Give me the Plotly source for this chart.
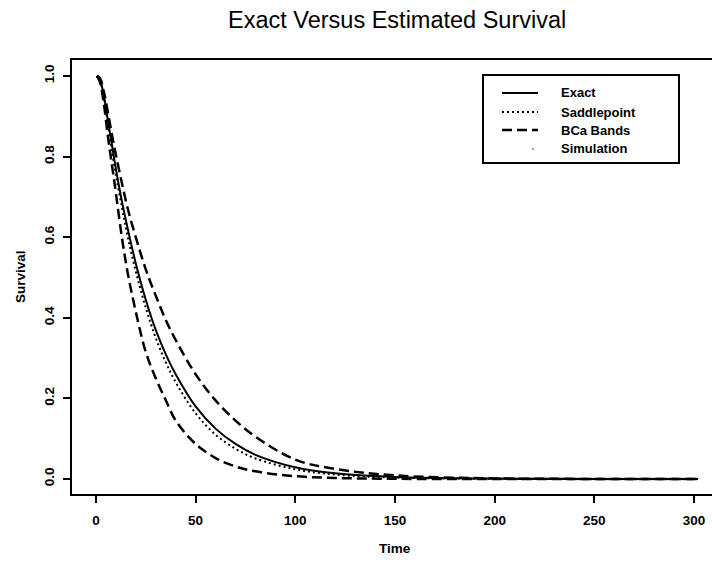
import plotly.graph_objects as go

# ---- data ----
time = [0.5, 2, 4, 6, 8, 10, 13, 16, 20, 25, 30, 35, 40, 50, 60, 70, 80, 100, 120, 150, 200, 250, 302]
exact = [1.0, 0.99, 0.95, 0.89, 0.83, 0.77, 0.69, 0.62, 0.535, 0.445, 0.37, 0.31, 0.26, 0.18, 0.125,
         0.087, 0.06, 0.029, 0.014, 0.005, 0.001, 0.0002, 0.0]
saddle = [1.0, 0.99, 0.945, 0.88, 0.815, 0.755, 0.675, 0.60, 0.515, 0.425, 0.35, 0.29, 0.24, 0.163, 0.11,
          0.075, 0.051, 0.024, 0.011, 0.0035, 0.0006, 0.0001, 0.0]
bca_lower = [1.0, 0.985, 0.93, 0.85, 0.78, 0.71, 0.60, 0.51, 0.415, 0.315, 0.25, 0.196, 0.145, 0.087, 0.052,
             0.031, 0.019, 0.007, 0.0025, 0.0005, 0.0, 0.0, 0.0]
bca_upper = [1.0, 0.995, 0.96, 0.91, 0.855, 0.805, 0.735, 0.67, 0.60, 0.52, 0.455, 0.395, 0.345, 0.26, 0.195,
             0.145, 0.105, 0.048, 0.025, 0.009, 0.0015, 0.0002, 0.0]

x_ticks = [0, 50, 100, 150, 200, 250, 300]
y_ticks = [0.0, 0.2, 0.4, 0.6, 0.8, 1.0]
legend_labels = ["Exact", "Saddlepoint", "BCa Bands", "Simulation"]

# ---- layout geometry (pixels) ----
W, H = 712, 562
L, R, T, B = 72, 0, 60, 68
PW, PH = W - L - R, H - T - B

def px(x):
    return (x - L) / PW

def py(y):
    return (H - B - y) / PH

FONT = "Liberation Sans"
fig = go.Figure()

common = dict(mode="lines", line_shape="spline", showlegend=False, hoverinfo="skip")
fig.add_trace(go.Scatter(x=time, y=exact, line=dict(color="black", width=2), **common))
fig.add_trace(go.Scatter(x=time, y=saddle, line=dict(color="black", width=2, dash="2px,3px"), **common))
fig.add_trace(go.Scatter(x=time, y=bca_lower, line=dict(color="black", width=2.5, dash="10px,5px"), **common))
fig.add_trace(go.Scatter(x=time, y=bca_upper, line=dict(color="black", width=2.5, dash="10px,5px"), **common))

# ---- legend drawn by hand (R style box) ----
shapes = [dict(type="rect", xref="paper", yref="paper", x0=px(483), x1=px(679), y0=py(163), y1=py(75),
               line=dict(color="black", width=2), fillcolor="white", layer="above")]
rows = [93, 112, 130, 149]
dashes = ["solid", "2px,3px", "10px,5px", None]
annotations = []
for lab, yy, d in zip(legend_labels, rows, dashes):
    if d is not None:
        shapes.append(dict(type="line", xref="paper", yref="paper", x0=px(502), x1=px(538), y0=py(yy), y1=py(yy),
                           line=dict(color="black", width=2 if d != "10px,5px" else 2.5, dash=d), layer="above"))
    else:
        shapes.append(dict(type="circle", xref="paper", yref="paper", x0=px(532.3), x1=px(533.7),
                           y0=py(yy + 0.7), y1=py(yy - 0.7), line=dict(width=0), fillcolor="black", layer="above"))
    annotations.append(dict(text=lab, xref="paper", yref="paper", x=px(559), y=py(yy), xanchor="left",
                            yanchor="middle", showarrow=False,
                            font=dict(family=FONT, size=13, color="black", weight="bold")))

annotations.append(dict(text="Exact Versus Estimated Survival", xref="paper", yref="paper",
                        x=px(397), y=py(20), xanchor="center", yanchor="middle", showarrow=False,
                        font=dict(family=FONT, size=23.5, color="black")))
annotations.append(dict(text="Time", xref="paper", yref="paper", x=px(395), y=py(548),
                        xanchor="center", yanchor="middle", showarrow=False,
                        font=dict(family=FONT, size=13.5, color="black", weight="bold")))
annotations.append(dict(text="Survival", xref="paper", yref="paper", x=px(20), y=py(277), textangle=-90,
                        xanchor="center", yanchor="middle", showarrow=False,
                        font=dict(family=FONT, size=13.5, color="black", weight="bold")))

fig.update_layout(
    width=W, height=H, margin=dict(l=L, r=R, t=T, b=B, autoexpand=False),
    paper_bgcolor="white", plot_bgcolor="white",
    shapes=shapes, annotations=annotations,
    xaxis=dict(range=[-12, 309], tickvals=x_ticks, ticktext=[str(v) for v in x_ticks],
               showgrid=False, zeroline=False, showline=True, mirror=True, linecolor="black", linewidth=2,
               ticks="outside", ticklen=7, tickwidth=1.5, tickcolor="black", ticklabelstandoff=6,
               tickfont=dict(family=FONT, size=13.5, color="black", weight="bold")),
    yaxis=dict(range=[-(494 - 479) / 403, 1 + (76 - 60) / 403], tickvals=y_ticks,
               ticktext=["%.1f" % v for v in y_ticks], tickangle=-90,
               showgrid=False, zeroline=False, showline=True, mirror=False, linecolor="black", linewidth=2,
               ticks="outside", ticklen=7, tickwidth=1.5, tickcolor="black", ticklabelstandoff=4,
               tickfont=dict(family=FONT, size=13.5, color="black", weight="bold")),
)

fig.write_html("out.html")
